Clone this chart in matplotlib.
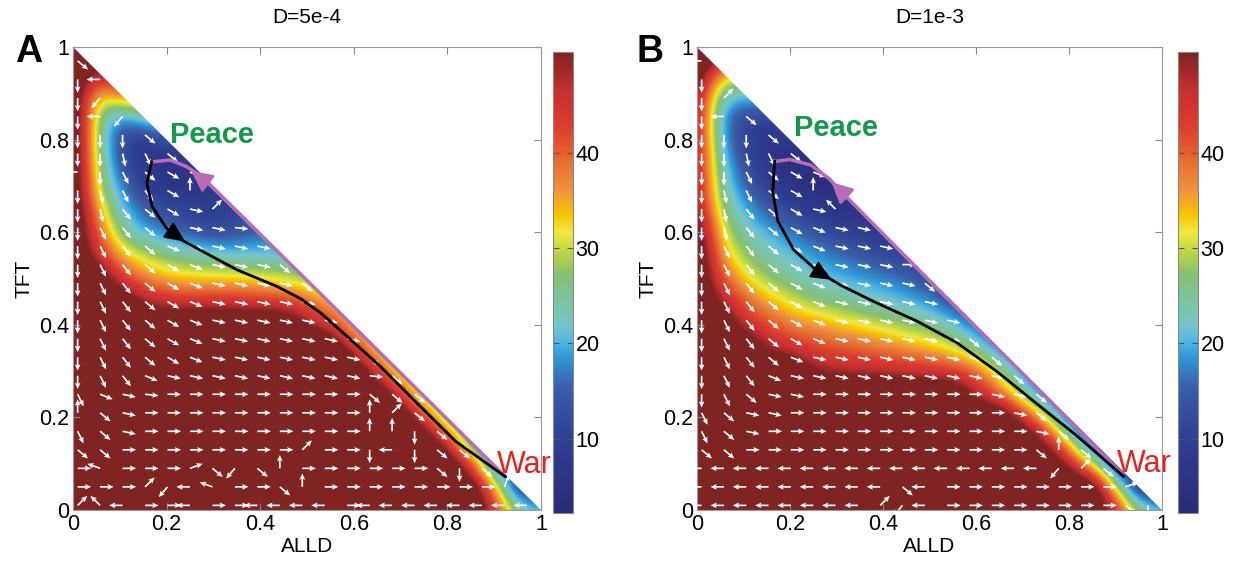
import numpy as np
import matplotlib
matplotlib.use('Agg')
from matplotlib import pyplot as plt
from matplotlib.colors import LinearSegmentedColormap
from matplotlib.patches import Polygon, FancyArrowPatch

plt.rcParams['font.family'] = ['Liberation Sans', 'DejaVu Sans']

# potential landscape U, rows y = 0, 0.05, ..., 1 ; entries x = 0, 0.05, ... up to 1-y
# (60 = saturated, above the top of the colour scale)
U_A = [
  [60]*18 + [46, 26, 22],
  [60]*18 + [36, 8],
  [60]*17 + [44, 12],
  [60]*16 + [46, 18],
  [60]*15 + [45, 22],
  [60]*14 + [46, 24],
  [60]*13 + [46, 26],
  [60]*12 + [47, 28],
  [60]*10 + [50, 46, 30],
  [60, 60, 60, 49, 46, 45, 45, 45, 44, 43, 41, 32],
  [60, 60, 44, 38, 34, 33, 33, 33, 32, 31, 27],
  [60, 46, 35, 30, 27, 25, 23, 22, 21, 21],
  [60, 42, 26, 20, 17, 14, 12, 13, 16],
  [60, 36, 22, 15, 12, 10, 9, 11],
  [60, 31, 18, 10, 7, 6, 8],
  [60, 29, 14, 7, 4, 7],
  [60, 28, 12, 7, 14],
  [60, 28, 16, 25],
  [60, 32, 40],
  [60, 50],
  [60],
]
U_B = [
  [60]*18 + [46, 28, 22],
  [60]*18 + [30, 5],
  [60]*16 + [49, 30, 6],
  [60]*15 + [49, 30, 8],
  [60]*14 + [47, 32, 10],
  [60]*12 + [47, 40, 26, 12],
  [60, 60, 60, 60, 60, 50, 48, 47, 47, 46, 45, 43, 40, 30, 15],
  [60, 60, 60, 49, 45, 43, 41, 40, 38, 36, 34, 31, 26, 14],
  [60, 60, 46, 42, 38, 36, 34, 32, 30, 28, 26, 22, 14],
  [60, 49, 41, 35, 31, 28, 26, 24, 22, 20, 18, 12],
  [60, 42, 33, 28, 25, 22, 20, 19, 18, 16, 12],
  [60, 36, 28, 24, 21, 19, 17, 15, 12, 10],
  [58, 32, 24, 20, 17, 14, 11, 9, 8],
  [52, 28, 20, 15, 11, 8, 6, 6],
  [50, 25, 16, 10, 6, 4, 5],
  [50, 23, 13, 7, 3, 5],
  [50, 20, 11, 6, 8],
  [50, 19, 11, 12],
  [52, 24, 22],
  [60, 36],
  [60],
]

# flow arrows: row j at y = 0.01 + 0.04 j, column i at x = 0.01 + 0.048 i
dirs_A = [
  'xyWEEWEEWWWWEWWWWWWWW',
  'EEExzWvEEgNEEEEEEEEn',
  'EvEEEugzgNEEEEEEgSg',
  'ggEEEEEEEExEESWSgg',
  'hgeEEEEEEEEEENNSg',
  'NgeEEEEEEEEEENxg',
  'hfedEEEEEEEEEggg',
  'ShGfeeeeeeeeedg',
  'ShGgFfeeeeeeeg',
  'ShGgFfeeeeeee',
  'ShGgFfeeeeee',
  'ShGgFfeeeee',
  'ShGgFfeeeeg',
  'ShGgFfeeeg',
  'ShGgfeeee',
  'ShGgFeed',
  'SsGgFex',
  'SshGFN',
  'WShgFf',
  'SSshg',
  'SSSg',
  'SWz',
  'Sz',
  'SW',
  'g',
]
dirs_B = [
  'WWWWWWWWxzWEEEEEEEEgS',
  'WWWWWWWWWgWEEEEEEEEu',
  'WWWWWWWWWWWWWWWWzxg',
  'ggEEEEEEEEEEEEEgNg',
  'hgeEEEEEEEEEEEEeg',
  'hgeeEEEEEEEEEEeg',
  'ShgeeEEEEEEEEeeg',
  'ShGfeeeeeeeeeeg',
  'ShGgfeeeeeeeeg',
  'ShGgFfeeeeeeg',
  'ShGgFfeeeeee',
  'ShGgFfeeeee',
  'ShGgFfeeeeg',
  'ShGgFfeeeE',
  'ShGgFfeee',
  'SsGgFfee',
  'SsGgFey',
  'SshgFN',
  'SShgFf',
  'SSshg',
  'SSSg',
  'SWg',
  'Sx',
  'S',
  'W',
]
dir_angle = {'E': 0, 'd': -6, 'e': -12, 'f': -22, 'F': -30, 'g': -40, 'G': -52,
             'h': -64, 's': -78, 'S': -90, 'N': 90, 'n': 70, 'm': 110, 'u': 20,
             'x': 45, 'W': 180, 'v': 160, 'w': 200, 'y': 135, 'z': 230}

# transition paths
black_A_x = [0.168, 0.158, 0.169, 0.199, 0.233, 0.267, 0.352, 0.436, 0.487, 0.53, 0.589, 0.657, 0.733, 0.818, 0.924]
black_A_y = [0.752, 0.706, 0.656, 0.61, 0.583, 0.564, 0.518, 0.483, 0.456, 0.425, 0.372, 0.31, 0.233, 0.148, 0.072]
pink_A_x = [0.169, 0.208, 0.242, 0.27, 0.30, 0.50, 0.70, 0.924]
pink_A_y = [0.752, 0.756, 0.742, 0.724, 0.695, 0.496, 0.296, 0.072]
black_B_x = [0.167, 0.163, 0.174, 0.208, 0.259, 0.31, 0.387, 0.473, 0.558, 0.644, 0.729, 0.815, 0.917]
black_B_y = [0.753, 0.686, 0.624, 0.562, 0.516, 0.485, 0.447, 0.408, 0.362, 0.30, 0.231, 0.162, 0.073]
pink_B_x = [0.169, 0.20, 0.245, 0.285, 0.31, 0.50, 0.70, 0.917]
pink_B_y = [0.753, 0.757, 0.745, 0.715, 0.688, 0.495, 0.295, 0.075]
black_head_A = [(0.205, 0.604), (0.245, 0.576)]
pink_head_A = [(0.29, 0.704), (0.248, 0.736)]
black_head_B = [(0.255, 0.518), (0.295, 0.494)]
pink_head_B = [(0.325, 0.675), (0.285, 0.712)]

cmap_pos = [0.0, 0.16, 0.27, 0.34, 0.375, 0.41, 0.46, 0.52, 0.56, 0.61, 0.65, 0.70, 0.78, 0.845, 0.92, 1.0]
cmap_col = ['#2a2a78', '#2f3f92', '#3a5ea8', '#2e9ad8', '#55b8e0', '#78c4c8', '#7cc49e', '#88c070',
            '#b8d448', '#f0e840', '#f6c400', '#ef9440', '#e5622d', '#dc3a30', '#c43030', '#7f2323']
cmap = LinearSegmentedColormap.from_list('landscape', list(zip(cmap_pos, cmap_col)))
vmin, vmax = 2.2, 50.6


def grid(rows):
  Z = np.zeros((len(rows), len(rows)))
  for j, r in enumerate(rows):
    Z[j, :len(r)] = r
    Z[j, len(r):] = r[-1]
  return Z


def panel(ax, cax, U, dirs, bx, by, px, py, bhead, phead, title, letter, lx, peace_xy, war_xy):
  im = ax.imshow(grid(U), origin='lower', extent=(-0.025, 1.025, -0.025, 1.025), cmap=cmap,
                 vmin=vmin, vmax=vmax, interpolation='bicubic', aspect='auto', zorder=1)
  tri = Polygon([(0, 0), (1, 0), (0, 1)], closed=True, transform=ax.transData, fc='none', ec='none')
  ax.add_patch(tri)
  im.set_clip_path(tri)

  X, Y, A = [], [], []
  for j, row in enumerate(dirs):
    for i, c in enumerate(row):
      x = 0.01 + 0.048 * i
      y = 0.01 + 0.04 * j
      if x + y > 0.995:
        continue
      X.append(x); Y.append(y); A.append(np.radians(dir_angle[c]))
  A = np.array(A)
  L = 0.029
  ax.quiver(X, Y, L * np.cos(A), L * np.sin(A), angles='xy', scale_units='xy', scale=1,
            color='white', width=0.0036, headwidth=3.4, headlength=3.8, headaxislength=3.2, zorder=3)

  ax.plot(px, py, color='#b86cb8', lw=2.5, zorder=4, solid_capstyle='round')
  ax.plot(bx, by, color='black', lw=2, zorder=5)
  ax.add_patch(FancyArrowPatch(phead[0], phead[1], arrowstyle='-|>,head_length=0.9,head_width=0.45',
                               mutation_scale=14, color='#b86cb8', lw=2, zorder=4))
  ax.add_patch(FancyArrowPatch(bhead[0], bhead[1], arrowstyle='-|>,head_length=0.9,head_width=0.4',
                               mutation_scale=14, color='black', lw=1.5, zorder=5))

  ax.text(peace_xy[0], peace_xy[1], 'Peace', color='#14994a', fontsize=21, fontweight='bold',
          ha='left', va='center', zorder=6)
  ax.text(war_xy[0], war_xy[1], 'War', color='#e3241f', fontsize=22, ha='left', va='center', zorder=6)

  ax.set_xlim(0, 1)
  ax.set_ylim(0, 1)
  ticks = [0, 0.2, 0.4, 0.6, 0.8, 1]
  labels = ['0', '0.2', '0.4', '0.6', '0.8', '1']
  ax.set_xticks(ticks)
  ax.set_xticklabels(labels)
  ax.set_yticks(ticks)
  ax.set_yticklabels(labels)
  ax.tick_params(direction='in', top=True, right=True, length=5, color='#888888', labelsize=15.5, pad=3)
  for s in ax.spines.values():
    s.set_color('#999999')
    s.set_linewidth(0.8)
  ax.set_xlabel('ALLD', fontsize=15, labelpad=1)
  ax.set_ylabel('TFT', fontsize=15, labelpad=4)
  ax.set_title(title, fontsize=15, pad=17)

  cb = plt.colorbar(im, cax=cax)
  cb.set_ticks([10, 20, 30, 40])
  cb.ax.tick_params(labelsize=15.5, direction='in', length=4, left=True, right=True, color='#555555', pad=2)
  cb.outline.set_edgecolor('#888888')
  cb.outline.set_linewidth(0.8)

  ax.figure.text(lx, 0.907, letter, fontsize=27, fontweight='bold', ha='left', va='center')


fig = plt.figure(figsize=(12.43, 5.61), dpi=100)
axA = fig.add_axes([0.0587, 0.0909, 0.3765, 0.8253])
caxA = fig.add_axes([0.4449, 0.0856, 0.0160, 0.8217])
axB = fig.add_axes([0.5607, 0.0909, 0.3741, 0.8253])
caxB = fig.add_axes([0.9477, 0.0856, 0.0160, 0.8217])

panel(axA, caxA, U_A, dirs_A, black_A_x, black_A_y, pink_A_x, pink_A_y, black_head_A, pink_head_A,
      'D=5e-4', 'A', 0.012, (0.208, 0.81), (0.905, 0.098))
panel(axB, caxB, U_B, dirs_B, black_B_x, black_B_y, pink_B_x, pink_B_y, black_head_B, pink_head_B,
      'D=1e-3', 'B', 0.512, (0.208, 0.824), (0.904, 0.10))

fig.savefig('out.png', dpi=100)
